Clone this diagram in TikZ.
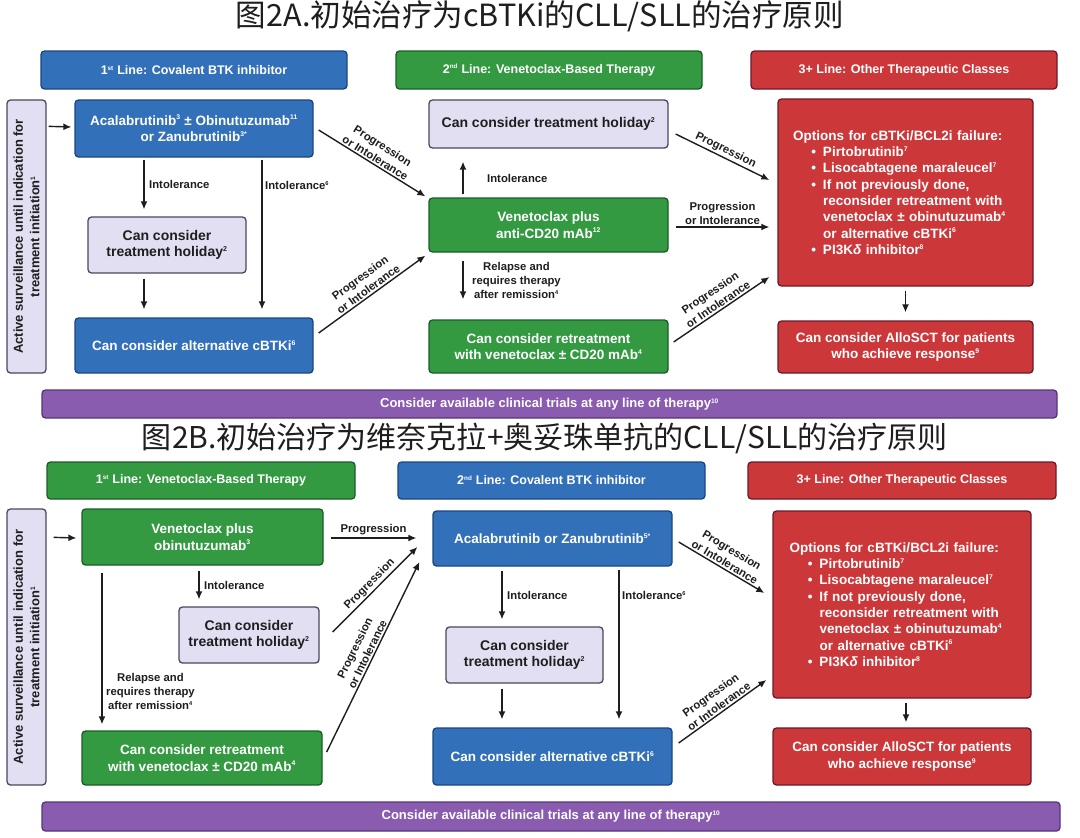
\documentclass[tikz,border=0pt]{standalone}
\usepackage{fontspec}
\usepackage{graphicx}
\setmainfont{Liberation Sans}
\newfontfamily\cjk{Noto Sans CJK SC}
\usetikzlibrary{arrows.meta,calc}
\definecolor{cblue}{RGB}{50,112,186}
\definecolor{cblueD}{RGB}{28,70,130}
\definecolor{cgreen}{RGB}{52,154,66}
\definecolor{cgreenD}{RGB}{25,95,40}
\definecolor{cred}{RGB}{204,56,58}
\definecolor{credD}{RGB}{110,25,45}
\definecolor{clav}{RGB}{226,223,242}
\definecolor{clavD}{RGB}{75,72,95}
\definecolor{cpurp}{RGB}{138,92,176}
\definecolor{cpurpD}{RGB}{85,55,125}
\definecolor{ink}{RGB}{30,30,30}
\newcommand{\optbul}{\makebox[30pt][r]{\textbullet\hspace{7pt}}}
\newcommand{\optind}{\hspace*{30pt}}
\newcommand{\ssup}[1]{\textsuperscript{\scalebox{0.72}{#1}}}
\tikzset{
  bx/.style={rounded corners=3.5pt, line width=1.3pt, align=center, inner sep=1pt,
    font=\bfseries\fontsize{13.5}{16.5}\selectfont},
  bluebx/.style={bx, fill=cblue, draw=cblueD, text=white},
  greenbx/.style={bx, fill=cgreen, draw=cgreenD, text=white},
  redbx/.style={bx, fill=cred, draw=credD, text=white},
  lavbx/.style={bx, fill=clav, draw=clavD, text=ink, font=\bfseries\fontsize{14}{16.5}\selectfont},
  purpbx/.style={bx, fill=cpurp, draw=cpurpD, text=white, font=\bfseries\fontsize{13}{15}\selectfont},
  hdr/.style={font=\bfseries\fontsize{12.5}{15}\selectfont},
  optstyle/.style={text width=225pt, align=left, font=\bfseries\fontsize{13.5}{16.3}\selectfont},
  survstyle/.style={rotate=90, font=\bfseries\fontsize{13}{16.5}\selectfont},
  arr/.style={draw=ink, line width=1.4pt, -{Latex[length=8pt,width=7pt]}},
  lbl/.style={font=\bfseries\fontsize{11.3}{14}\selectfont, text=ink, align=center, inner sep=1.5pt},
  wh/.style 2 args={minimum width=#1pt, minimum height=#2pt},
  ttl/.style={inner sep=0pt, text=ink},
}
\begin{document}
\begin{tikzpicture}[x=1pt,y=-1pt]
\fill[white] (0,0) rectangle (1080,838);
\useasboundingbox (0,0) rectangle (1080,838);

% ---------------- Panel A ----------------
\node[ttl] (tA) at (540,16) {\resizebox{608pt}{!}{\cjk\fontsize{30}{30}\selectfont 图2A.初始治疗为cBTKi的CLL/SLL的治疗原则}};

\node[bluebx,hdr,wh={306}{38}] (hA1) at (194,70) {1\ssup{st} Line: Covalent BTK inhibitor};
\node[greenbx,hdr,wh={306}{38}] (hA2) at (549,70) {2\ssup{nd} Line: Venetoclax-Based Therapy};
\node[redbx,hdr,wh={306}{38}] (hA3) at (904,70) {3+ Line: Other Therapeutic Classes};

\node[lavbx,wh={39}{273}] (survA) at (26.5,236.5) {};
\node[survstyle,text=ink,align=center] (survAt) at (survA.center) {Active surveillance until indication for\\treatment initiation\ssup{1}};

\node[bluebx,wh={238}{57}] (acalA) at (194,128.5) {Acalabrutinib\ssup{3} ± Obinutuzumab\ssup{11}\\or Zanubrutinib\ssup{3*}};
\node[lavbx,wh={158}{56}] (holA1) at (167,245) {Can consider\\treatment holiday\ssup{2}};
\node[bluebx,wh={238}{55}] (altA) at (194,345.5) {Can consider alternative cBTKi\ssup{6}};

\node[lavbx,wh={239}{48}] (holA2) at (548.5,124) {Can consider treatment holiday\ssup{2}};
\node[greenbx,wh={239}{54}] (venA) at (548.5,225) {Venetoclax plus\\anti-CD20 mAb\ssup{12}};
\node[greenbx,wh={239}{53}] (retA) at (548.5,346.5) {Can consider retreatment\\with venetoclax ± CD20 mAb\ssup{4}};

\node[redbx,optstyle,wh={255}{187}] (optA) at (905.5,192.5) {Options for cBTKi/BCL2i failure:\\
\optbul Pirtobrutinib\ssup{7}\\
\optbul Lisocabtagene maraleucel\ssup{7}\\
\optbul If not previously done,\\
\optind reconsider retreatment with\\
\optind venetoclax ± obinutuzumab\ssup{4}\\
\optind or alternative cBTKi\ssup{6}\\
\optbul PI3K{\itshape δ} inhibitor\ssup{8}};
\node[redbx,wh={255}{52}] (alloA) at (905.5,347) {Can consider AlloSCT for patients\\who achieve response\ssup{9}};

\node[purpbx,wh={1015}{28}] (pA) at (549.5,404) {Consider available clinical trials at any line of therapy\ssup{10}};

% arrows A
\draw[arr] ($(survA.north east)+(2,27)$) -- ($(acalA.west)+(-3,-1.5)$);
\draw[arr] ($(acalA.south)+(-50,2)$) -- node[lbl,right=3pt] {Intolerance} ($(holA1.north)+(-23,-7)$);
\draw[arr] ($(holA1.south)+(-23,5)$) -- ($(altA.north)+(-50,-8)$);
\draw[arr] ($(acalA.south)+(68,2)$) -- node[lbl,right=1pt,pos=0.17] {Intolerance\ssup{6}} ($(altA.north)+(68,-8)$);
\draw[arr] ($(acalA.east)+(5,1.5)$) -- node[lbl,sloped,above] {Progression\\or Intolerance} ($(venA.north west)+(-3,-1)$);
\draw[arr] ($(altA.east)+(5,-12.5)$) -- node[lbl,sloped,above] {Progression\\or Intolerance} ($(venA.south west)+(-3,3)$);
\draw[arr] ($(venA.north)+(-85.5,-3)$) -- node[lbl,right=22pt] {Intolerance} ($(holA2.south)+(-85.5,13)$);
\draw[arr] ($(venA.south)+(-85.5,8)$) -- node[lbl,right=7pt] {Relapse and\\requires therapy\\after remission\ssup{4}} ($(retA.north)+(-85.5,-20)$);
\draw[arr] ($(holA2.east)+(7,10)$) -- node[lbl,sloped,above] {Progression} ($(optA.west)+(-8,-12.5)$);
\draw[arr] ($(venA.east)+(7,2)$) -- node[lbl,above] {Progression\\or Intolerance} ($(optA.west)+(-8,34.5)$);
\draw[arr] ($(retA.east)+(5,-4.5)$) -- node[lbl,sloped,above] {Progression\\or Intolerance} ($(optA.west)+(-8,84.5)$);
\draw[arr] ($(optA.south)+(0,4)$) -- ($(alloA.north)+(0,-8)$);

% ---------------- Panel B ----------------
\node[ttl] (tB) at (545,438) {\resizebox{806pt}{!}{\cjk\fontsize{30}{30}\selectfont 图2B.初始治疗为维奈克拉+奥妥珠单抗的CLL/SLL的治疗原则}};

\node[greenbx,hdr,wh={308}{37}] (hB1) at (201,480.5) {1\ssup{st} Line: Venetoclax-Based Therapy};
\node[bluebx,hdr,wh={307}{37}] (hB2) at (551.5,480.5) {2\ssup{nd} Line: Covalent BTK inhibitor};
\node[redbx,hdr,wh={308}{37}] (hB3) at (902,480.5) {3+ Line: Other Therapeutic Classes};

\node[lavbx,wh={39}{276}] (survB) at (26.5,647) {};
\node[survstyle,text=ink,align=center] (survBt) at (survB.center) {Active surveillance until indication for\\treatment initiation\ssup{1}};

\node[greenbx,wh={241}{56}] (venB) at (202.5,537) {Venetoclax plus\\obinutuzumab\ssup{3}};
\node[lavbx,wh={140}{56}] (holB1) at (249,635) {Can consider\\treatment holiday\ssup{2}};
\node[greenbx,wh={240}{54}] (retB) at (202,758) {Can consider retreatment\\with venetoclax ± CD20 mAb\ssup{4}};

\node[bluebx,wh={239}{55}] (acazB) at (552.5,538.5) {Acalabrutinib or Zanubrutinib\ssup{5*}};
\node[lavbx,wh={157}{56}] (holB2) at (524.5,655) {Can consider\\treatment holiday\ssup{2}};
\node[bluebx,wh={239}{57}] (altB) at (552.5,756.5) {Can consider alternative cBTKi\ssup{6}};

\node[redbx,optstyle,wh={258}{187}] (optB) at (902,604.5) {Options for cBTKi/BCL2i failure:\\
\optbul Pirtobrutinib\ssup{7}\\
\optbul Lisocabtagene maraleucel\ssup{7}\\
\optbul If not previously done,\\
\optind reconsider retreatment with\\
\optind venetoclax ± obinutuzumab\ssup{4}\\
\optind or alternative cBTKi\ssup{6}\\
\optbul PI3K{\itshape δ} inhibitor\ssup{8}};
\node[redbx,wh={258}{57}] (alloB) at (902,756.5) {Can consider AlloSCT for patients\\who achieve response\ssup{9}};

\node[purpbx,wh={1018}{29}] (pB) at (551,816.5) {Consider available clinical trials at any line of therapy\ssup{10}};

% arrows B
\draw[arr] ($(survB.north east)+(7,29)$) -- ($(venB.west)+(-5,1)$);
\draw[arr] ($(venB.south)+(-3.5,5)$) -- node[lbl,right=3pt] {Intolerance} ($(holB1.north)+(-50,-7)$);
\draw[arr] ($(venB.south)+(-100.5,7)$) -- node[lbl,right=2pt,pos=0.78] {Relapse and\\requires therapy\\after remission\ssup{4}} ($(retB.north)+(-100,-6)$);
\draw[arr] ($(venB.east)+(7,1)$) -- node[lbl,above=1pt] {Progression} ($(acazB.west)+(-16,-0.5)$);
\draw[arr] ($(holB1.east)+(13,-3)$) -- node[lbl,sloped,above] {Progression} ($(acazB.west)+(-15,8.5)$);
\draw[arr] ($(retB.east)+(4,-6)$) -- node[lbl,sloped,above] {Progression\\or Intolerance} ($(acazB.west)+(-13,23.5)$);
\draw[arr] ($(acazB.south)+(-50.5,4)$) -- node[lbl,right=3pt] {Intolerance} ($(holB2.north)+(-22.5,-7)$);
\draw[arr] ($(holB2.south)+(-22.5,5)$) -- ($(altB.north)+(-50.5,-8)$);
\draw[arr] ($(acazB.south)+(66.5,3)$) -- node[lbl,right=1pt,pos=0.17] {Intolerance\ssup{6}} ($(altB.north)+(66.5,-8)$);
\draw[arr] ($(acazB.east)+(6,3.5)$) -- node[lbl,sloped,above] {Progression\\or Intolerance} ($(optB.west)+(-8,-11.5)$);
\draw[arr] ($(altB.east)+(6,-13.5)$) -- node[lbl,sloped,above] {Progression\\or Intolerance} ($(optB.west)+(-6,75.5)$);
\draw[arr] ($(optB.south)+(4,4)$) -- ($(alloB.north)+(4,-5)$);
\end{tikzpicture}
\end{document}
